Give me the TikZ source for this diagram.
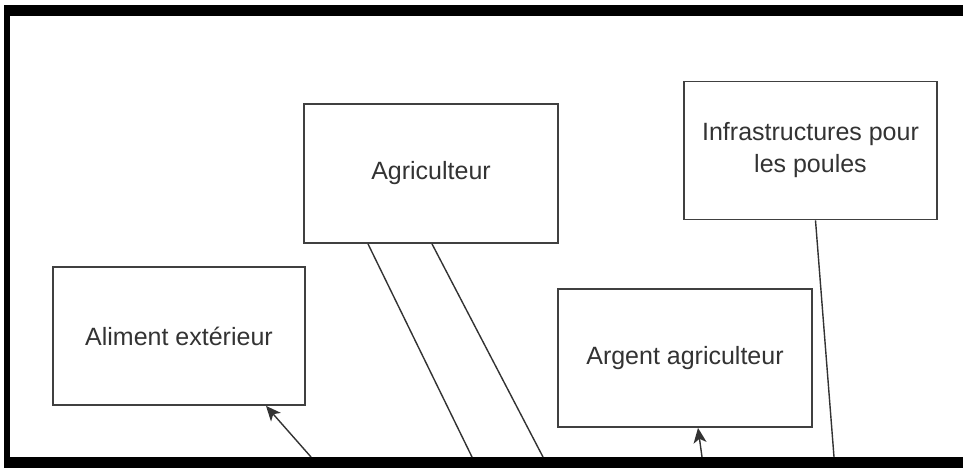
\documentclass[tikz,border=0pt]{standalone}
\usepackage{fontspec}
\setmainfont{Liberation Sans}
\usetikzlibrary{arrows.meta}
\begin{document}
\begin{tikzpicture}[x=1pt,y=-1pt,
  box/.style={draw=black!75, line width=1.8pt, rectangle, align=center,
    text=black!80, font=\fontsize{25}{32}\selectfont, inner sep=0pt},
  conn/.style={draw=black!80, line width=1.4pt},
  arr/.style={conn, -{Stealth[length=15pt,width=13pt,inset=4pt]}},
  bar/.style={fill=black, draw=none}]
\useasboundingbox (0,0) rectangle (963,468);
\fill[white] (0,0) rectangle (963,468);
% frame
\path[bar] (4,5) rectangle (963,16);
\path[bar] (4,5) rectangle (10,468);
\path[bar] (4,457) rectangle (963,468);
% boxes
\node[box, minimum width=252pt, minimum height=138pt] (ali) at (179,336) {Aliment extérieur};
\node[box, minimum width=254pt, minimum height=139pt] (agri) at (431,173.5) {Agriculteur};
\node[box, minimum width=253pt, minimum height=138pt] (infra) at (810.5,150.5) {Infrastructures pour\\les poules};
\node[box, minimum width=254pt, minimum height=138pt] (arg) at (685,358) {Argent agriculteur};
% free ends on the bottom bar
\coordinate (e1) at (311,457);
\coordinate (e2) at (472,457);
\coordinate (e3) at (543,457);
\coordinate (e4) at (702,457);
\coordinate (e5) at (834,457);
% connectors
\draw[arr] (e1) -- ([xshift=87pt]ali.south);
\draw[conn] ([xshift=-63pt]agri.south) -- (e2);
\draw[conn] ([xshift=1pt]agri.south) -- (e3);
\draw[arr] (e4) -- ([xshift=13pt]arg.south);
\draw[conn] ([xshift=5pt]infra.south) -- (e5);
\end{tikzpicture}
\end{document}
